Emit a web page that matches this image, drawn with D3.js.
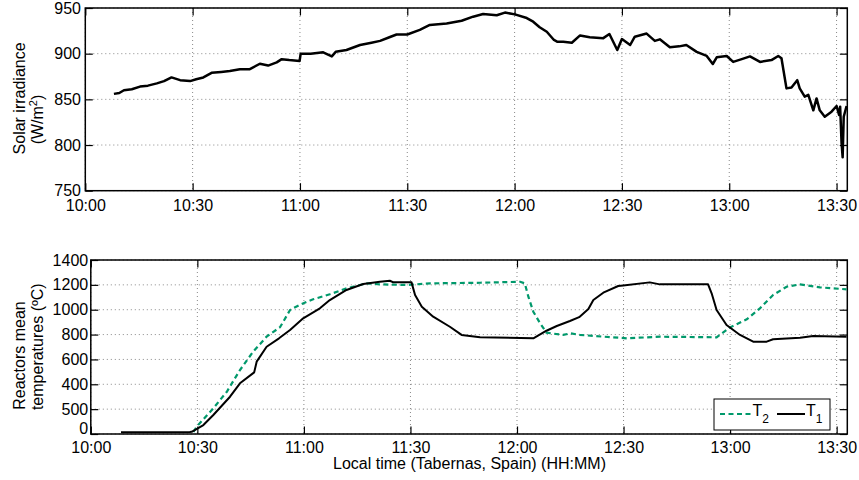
<!DOCTYPE html>
<html><head><meta charset="utf-8">
<script src="https://cdn.jsdelivr.net/npm/d3@7/dist/d3.min.js"></script>
<style>body{margin:0;background:#fff}svg{display:block;font-family:"Liberation Sans",Arial,sans-serif}</style>
</head><body><svg id="c" width="859" height="480"></svg>
<script>
// time in minutes after 10:00
const timeTickValues = [0,30,60,90,120,150,180,210];
const timeTickLabels = ["10:00","10:30","11:00","11:30","12:00","12:30","13:00","13:30"];
const irrTicks = [750,800,850,900,950];
const tempTickValues = [0,200,400,600,800,1000,1200,1400];
const tempTickLabels = ["0","500","400","600","800","1000","1200","1400"];

const irrTime = [8.0,9.5,10.8,13,15.3,17.5,20,22,24.1,26.5,29.3,31,33,35.3,38,40.4,43.2,46,48.8,51.1,53.5,54.9,57,59.9,60.2,63,66.5,68.9,70,73,76.8,80,82.4,85,87,90,93.5,96.3,101,105.2,108.4,111.2,115,117.3,120.1,123.4,125.2,127,129,131,132,133.6,136,138.3,141,144.8,146.5,148.7,150,152.3,153.6,156.9,159.2,160.6,163.4,166,168,170.9,173.7,175.4,176.5,179.3,181.1,183.5,185.8,188.6,191.8,193.7,194.6,196,197.4,199,199.7,201.1,202.1,203.5,204.4,205.3,206.7,208.6,210,210.7,211,211.4,211.7,212,212.8];
const irrValue = [856,857,860,861,864,865,867.5,870,874,871,870,872,874,879,880,881,883,883,889,887,890.5,894,893,892,900,900,901.5,897,902,904,909.5,912,914,918,921,921,926,931.4,933,936,940.5,943.4,942,945,943,939,935,929,924,915,913,913,912,920,918,917,921.5,904,916,909.5,918.6,922,914,915.7,907,908,909.5,902,897.5,888.7,896,897.5,891,894,897,891,893,897.5,895,862,863,871,862,853,855,838,851,838,831,836.5,842.7,833,842,802,786.5,831,842.7];

const t1Time = [8.5,27.9,28.4,31.7,34.5,39.2,42,46,46.7,49.5,53,56.1,59.8,64.5,67.3,72,76.7,81.4,84.2,85.2,90.3,91.3,93.2,96.4,101.1,104.4,109.6,124.6,128.3,131.2,134.9,137.5,140.1,141.5,144.3,148.5,149.9,157.4,160.2,173.8,174.8,176.2,179,182.8,186.5,190.3,192.1,199.7,203.4,212.8];
const t1Value = [14,16,18,72,153,300,408,496,582,702,770,837,931,1011,1078,1159,1207,1225,1233,1220,1220,1118,1024,944,863,797,778,770,831,869,909,940,1005,1078,1137,1191,1195,1220,1204,1204,1132,998,877,797,743,743,762,775,788,783];

const t2Time = [28.9,29.8,34.5,38.3,42,45.7,49.5,53.3,56.1,58.9,62.6,67.3,72,77.7,81.4,88.9,95.5,109.6,120.9,122.2,123.2,124.6,126.5,128.3,133,135,137.7,150.9,160.3,176.2,177.1,180,184.7,188.4,192.1,195.9,199.7,205.3,212.8];
const t2Value = [16,59,207,340,515,662,783,860,998,1040,1084,1124,1172,1212,1204,1199,1212,1217,1225,1212,1105,984,891,815,797,810,797,770,783,778,797,858,923,1011,1118,1185,1204,1180,1164];

const svg = d3.select("#c");
const FS = 16;
const green = "#00996b";

function panel(box, yDomain, yTickVals, yTickLabels, xPad, yPad) {
  const x = d3.scaleLinear().domain([0,213]).range([box.l, box.r]);
  const y = d3.scaleLinear().domain(yDomain).range([box.b, box.t]);
  const g = svg.append("g");
  g.selectAll(".gx").data(timeTickValues).join("line")
    .attr("x1", d=>x(d)).attr("x2", d=>x(d)).attr("y1", box.t).attr("y2", box.b)
    .attr("stroke", "#888").attr("stroke-width", 1).attr("stroke-dasharray", "1,3");
  g.selectAll(".gy").data(yTickVals).join("line")
    .attr("x1", box.l).attr("x2", box.r).attr("y1", d=>y(d)).attr("y2", d=>y(d))
    .attr("stroke", "#888").attr("stroke-width", 1).attr("stroke-dasharray", "1,3");
  const tl = 7.5;
  const ax = d3.axisBottom(x).tickValues(timeTickValues).tickFormat((d,i)=>timeTickLabels[i]).tickSizeInner(-tl).tickSizeOuter(0).tickPadding(xPad);
  const axT = d3.axisTop(x).tickValues(timeTickValues).tickFormat("").tickSizeInner(-tl).tickSizeOuter(0);
  const ay = d3.axisLeft(y).tickValues(yTickVals).tickFormat((d,i)=>yTickLabels[i]).tickSizeInner(-tl).tickSizeOuter(0).tickPadding(yPad);
  const ayR = d3.axisRight(y).tickValues(yTickVals).tickFormat("").tickSizeInner(-tl).tickSizeOuter(0);
  const gx = g.append("g").attr("transform", `translate(0,${box.b})`).call(ax);
  const gxt = g.append("g").attr("transform", `translate(0,${box.t})`).call(axT);
  const gy = g.append("g").attr("transform", `translate(${box.l},0)`).call(ay);
  const gyr = g.append("g").attr("transform", `translate(${box.r},0)`).call(ayR);
  [gx,gxt,gy,gyr].forEach(a => {
    a.select(".domain").remove();
    a.selectAll(".tick line").attr("stroke","#000").attr("stroke-width",1.2);
    a.selectAll("text").attr("font-size", FS).attr("fill","#000").attr("font-family","Liberation Sans, Arial, sans-serif");
  });
  gx.selectAll("text").attr("dy","0.72em");
  g.append("rect").attr("x", box.l).attr("y", box.t).attr("width", box.r-box.l).attr("height", box.b-box.t)
    .attr("fill","none").attr("stroke","#000").attr("stroke-width",1.5);
  return {x, y, g, gy};
}

// top panel
const p1 = panel({l:85.3, r:847.3, t:8, b:190.7}, [750,950], irrTicks, irrTicks.map(String), 8.5, 4.3);
svg.append("clipPath").attr("id","cp1").append("rect").attr("x",85.3).attr("y",8).attr("width",762).attr("height",182.7);
svg.append("path").datum(irrTime.map((t,i)=>[t, irrValue[i]]))
  .attr("clip-path","url(#cp1)")
  .attr("d", d3.line().x(d=>p1.x(d[0])).y(d=>p1.y(d[1])))
  .attr("fill","none").attr("stroke","#000").attr("stroke-width",2.5).attr("stroke-linejoin","round");

// bottom panel
const p2 = panel({l:90.8, r:847.3, t:260, b:434}, [0,1400], tempTickValues, tempTickLabels, 7.5, 2.6);
// nudge the bottom "0" label up a little so it clears the "10:00" label
p2.gy.selectAll(".tick text").filter(d => d === 0).attr("dy", "-0.05em");
svg.append("path").datum(t2Time.map((t,i)=>[t, t2Value[i]]))
  .attr("d", d3.line().x(d=>p2.x(d[0])).y(d=>p2.y(d[1])))
  .attr("fill","none").attr("stroke",green).attr("stroke-width",2.2).attr("stroke-dasharray","5,3.5");
svg.append("path").datum(t1Time.map((t,i)=>[t, t1Value[i]]))
  .attr("d", d3.line().x(d=>p2.x(d[0])).y(d=>p2.y(d[1])))
  .attr("fill","none").attr("stroke","#000").attr("stroke-width",2).attr("stroke-linejoin","round");

// y labels
function vtext(x, yc) {
  return svg.append("text").attr("transform", `translate(${x},${yc}) rotate(-90)`)
    .attr("text-anchor","middle").attr("font-size",FS).attr("fill","#000");
}
vtext(24.5, 98.4).text("Solar irradiance");
const l2 = vtext(43, 119.5);
l2.append("tspan").text("(W/m");
l2.append("tspan").attr("font-size",11).attr("dy",-6).text("2");
l2.append("tspan").attr("dy",6).text(")");
vtext(24.5, 355.5).text("Reactors mean");
vtext(43, 346.7).text("temperatures (ºC)");

// x label
svg.append("text").attr("x", 469.5).attr("y", 469).attr("text-anchor","middle")
  .attr("font-size",FS).attr("fill","#000").text("Local time (Tabernas, Spain) (HH:MM)");

// legend
const lg = svg.append("g");
lg.append("rect").attr("x",714).attr("y",399).attr("width",116).attr("height",31)
  .attr("fill","#fff").attr("stroke","#000").attr("stroke-width",1);
lg.append("line").attr("x1",720).attr("x2",752).attr("y1",414).attr("y2",414)
  .attr("stroke",green).attr("stroke-width",2.2).attr("stroke-dasharray","5,3.5");
const lt2 = lg.append("text").attr("x",752.5).attr("y",415.5).attr("font-size",FS).attr("fill","#000");
lt2.append("tspan").text("T");
lt2.append("tspan").attr("font-size",12).attr("dy",7).text("2");
lg.append("line").attr("x1",777).attr("x2",805).attr("y1",414).attr("y2",414)
  .attr("stroke","#000").attr("stroke-width",2);
const lt1 = lg.append("text").attr("x",806).attr("y",415.5).attr("font-size",FS).attr("fill","#000");
lt1.append("tspan").text("T");
lt1.append("tspan").attr("font-size",12).attr("dy",7).text("1");
</script></body></html>
